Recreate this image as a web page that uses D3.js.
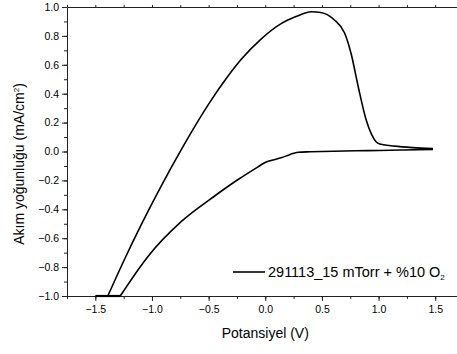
<!DOCTYPE html>
<html><head><meta charset="utf-8">
<script src="https://cdn.jsdelivr.net/npm/d3@7"></script>
<style>body{margin:0;background:#fff}svg{display:block}text{font-family:"Liberation Sans",Arial,sans-serif;fill:#000}</style>
</head><body><svg id="c" width="457" height="354"></svg>
<script>
// Data
// upper (anodic) branch, potential increasing
const upperV = [-1.39,-1.24,-1.09,-0.92,-0.74,-0.49,-0.34,-0.21,-0.035,0.14,0.26,0.41,0.49,0.61,0.70,0.76,0.82,0.89,0.94,0.98,1.02,1.14,1.30,1.48];
const upperJ = [-1.00,-0.742,-0.499,-0.241,0.015,0.34,0.51,0.64,0.78,0.885,0.93,0.967,0.962,0.91,0.82,0.67,0.45,0.22,0.115,0.066,0.05,0.037,0.027,0.021];
// lower (cathodic) branch, potential increasing
const lowerV = [-1.28,-1.035,-0.74,-0.447,-0.24,-0.064,-0.006,0.05,0.14,0.22,0.29,0.40,0.60,0.90,1.20,1.48];
const lowerJ = [-1.00,-0.726,-0.484,-0.308,-0.194,-0.106,-0.078,-0.062,-0.044,-0.02,-0.005,-0.002,0.002,0.006,0.010,0.015];
// clipped part at the lower axis limit
const clipV = [-1.50,-1.28];
const clipJ = [-1.00,-1.00];
const xTicks = [-1.5,-1.0,-0.5,0.0,0.5,1.0,1.5];
const yTicks = [-1.0,-0.8,-0.6,-0.4,-0.2,0.0,0.2,0.4,0.6,0.8,1.0];
const xLabel = "Potansiyel (V)";
const yLabel = "Akım yoğunluğu (mA/cm";
const seriesName = "291113_15 mTorr + %10 O";

const svg = d3.select("#c");
const L = 67, T = 7, B = 296;
const x = d3.scaleLinear().domain([-1.75,1.75]).range([L, L + 3.5*113.3]);
const y = d3.scaleLinear().domain([-1,1]).range([B, T]);

const fmt = d3.format(".1f");
const xMinor = d3.range(-1.75, 1.76, 0.25);
const yMinor = d3.range(-1.0, 1.01, 0.1);

const gx = svg.append("g").attr("transform",`translate(0,${B})`)
  .call(d3.axisBottom(x).tickValues(xTicks).tickFormat(fmt).tickSize(5).tickSizeOuter(0));
svg.append("g").attr("transform",`translate(0,${B})`)
  .call(d3.axisBottom(x).tickValues(xMinor).tickFormat("").tickSize(3).tickSizeOuter(0))
  .select(".domain").remove();
svg.append("g").attr("transform",`translate(0,${T})`)
  .call(d3.axisTop(x).tickValues(xMinor).tickFormat("").tickSize(2).tickSizeOuter(0));
const gy = svg.append("g").attr("transform",`translate(${L},0)`)
  .call(d3.axisLeft(y).tickValues(yTicks).tickFormat(fmt).tickSize(5).tickSizeOuter(0));
svg.append("g").attr("transform",`translate(${L},0)`)
  .call(d3.axisLeft(y).tickValues(yMinor).tickFormat("").tickSize(3).tickSizeOuter(0))
  .select(".domain").remove();

svg.selectAll(".tick text").style("font-size","10.5px").style("font-family","'Liberation Sans',Arial,sans-serif");
gx.selectAll(".tick text").attr("dy","0.71em").attr("y",10);
gy.selectAll(".tick text").attr("x",-8);
svg.selectAll(".domain, .tick line").attr("stroke","#222").attr("stroke-width",1);

const line = d3.line().x(d=>x(d[0])).y(d=>y(d[1]));
const drawBranch = (V, J, curve) => svg.append("path").datum(V.map((v,i)=>[v,J[i]]))
  .attr("fill","none").attr("stroke","#000").attr("stroke-width",1.6).attr("stroke-linejoin","round")
  .attr("d", line.curve(curve));
drawBranch(upperV, upperJ, d3.curveMonotoneX);
drawBranch(lowerV, lowerJ, d3.curveMonotoneX);
drawBranch(clipV, clipJ, d3.curveLinear).attr("stroke-width",2.2);

svg.append("text").attr("x",x(0)).attr("y",338).attr("text-anchor","middle")
  .style("font-size","14px").text(xLabel);
const yt = svg.append("text").attr("transform",`translate(24,164) rotate(-90)`).attr("text-anchor","middle")
  .style("font-size","14px");
yt.append("tspan").text(yLabel);
yt.append("tspan").attr("dy",-5).style("font-size","8px").text("2");
yt.append("tspan").attr("dy",5).text(")");

const ly = 272;
svg.append("line").attr("x1",233).attr("x2",265).attr("y1",ly).attr("y2",ly).attr("stroke","#000").attr("stroke-width",1.6);
const lt = svg.append("text").attr("x",268).attr("y",ly+5).style("font-size","14.5px");
lt.append("tspan").text(seriesName);
lt.append("tspan").attr("dy",3).style("font-size","8px").text("2");
</script></body></html>
